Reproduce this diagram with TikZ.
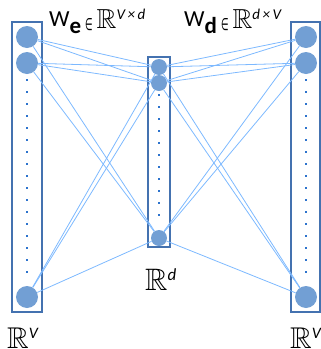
\documentclass[tikz,border=0pt]{standalone}
\usepackage{amssymb}
\usepackage{graphicx}
\usepackage{fontspec}
\newfontfamily\carl{Carlito}
\newfontfamily\dejavu{DejaVu Sans}
\definecolor{boxblue}{RGB}{68,114,176}
\definecolor{neuronblue}{RGB}{114,159,212}
\definecolor{linkblue}{RGB}{125,185,255}
\definecolor{dotblue}{RGB}{45,115,205}
\newcommand{\bigR}[1]{{\fontsize{#1}{#1}\selectfont$\mathbb{R}$}}
\newcommand{\elem}{\raisebox{-4pt}{\resizebox{7.5pt}{12pt}{\dejavu ∈}}}
\tikzset{
  colbox/.style={draw=boxblue, line width=1.8pt, inner sep=0pt},
  neuron/.style={circle, fill=neuronblue, inner sep=0pt, minimum size=#1},
  link/.style={draw=linkblue, line width=0.8pt},
  dotmark/.style={fill=dotblue, inner sep=0pt, minimum size=2.3pt},
  lab/.style={inner sep=0pt, anchor=base west}
}
\begin{document}
\begin{tikzpicture}[x=1pt,y=-1pt]
\useasboundingbox (0,0) rectangle (321,349);
% column boxes
\node[colbox, minimum width=30pt, minimum height=290pt] (LB) at (27,167) {};
\node[colbox, minimum width=22pt, minimum height=190pt] (MB) at (159,152) {};
\node[colbox, minimum width=29pt, minimum height=290pt] (RB) at (305.5,167) {};
% neurons
\node[neuron=22pt] (L1) at (27,37) {};
\node[neuron=22pt] (L2) at (27,63) {};
\node[neuron=22pt] (L3) at (27,297) {};
\node[neuron=16pt] (M1) at (159,67) {};
\node[neuron=16pt] (M2) at (159,83) {};
\node[neuron=16pt] (M3) at (159,238) {};
\node[neuron=22pt] (R1) at (306,37) {};
\node[neuron=22pt] (R2) at (306,63) {};
\node[neuron=22pt] (R3) at (306,297) {};
% dots
\foreach \k in {0,...,16}{
  \node[dotmark] (dl\k) at (27,80+12*\k) {};
  \node[dotmark] (dr\k) at (306,80+12*\k) {};
}
\foreach \k in {0,...,10}{
  \node[dotmark] (dm\k) at (159,95+12*\k) {};
}
% connections
\foreach \a in {L1,L2,L3}{
  \foreach \b in {M1,M2,M3}{
    \draw[link] (\a) -- (\b);
  }
}
\foreach \a in {M1,M2,M3}{
  \foreach \b in {R1,R2,R3}{
    \draw[link] (\a) -- (\b);
  }
}
% labels
\node[lab] (we) at (49,26) {\fontsize{23}{23}\selectfont\carl W\raisebox{-7pt}{\bfseries e}\hspace{4pt}\elem\hspace{4pt}\raisebox{-2pt}{\bigR{27.5}}\raisebox{7pt}{\fontsize{15}{15}\selectfont\itshape V\,×\,d}};
\node[lab] (wd) at (184,26) {\fontsize{23}{23}\selectfont\carl W\raisebox{-7pt}{\bfseries d}\hspace{4pt}\elem\hspace{4pt}\raisebox{-2pt}{\bigR{27.5}}\raisebox{7pt}{\fontsize{15}{15}\selectfont\itshape d\,×\,V}};
\node[lab] (rd) at (145,290) {\bigR{31}\raisebox{10pt}{\fontsize{17}{17}\selectfont\carl\itshape d}};
\node[lab] (rvl) at (7,348) {\bigR{30}\raisebox{10pt}{\fontsize{16}{16}\selectfont\carl\itshape V}};
\node[lab] (rvr) at (290,348) {\bigR{30}\raisebox{10pt}{\fontsize{16}{16}\selectfont\carl\itshape V}};
\end{tikzpicture}
\end{document}
